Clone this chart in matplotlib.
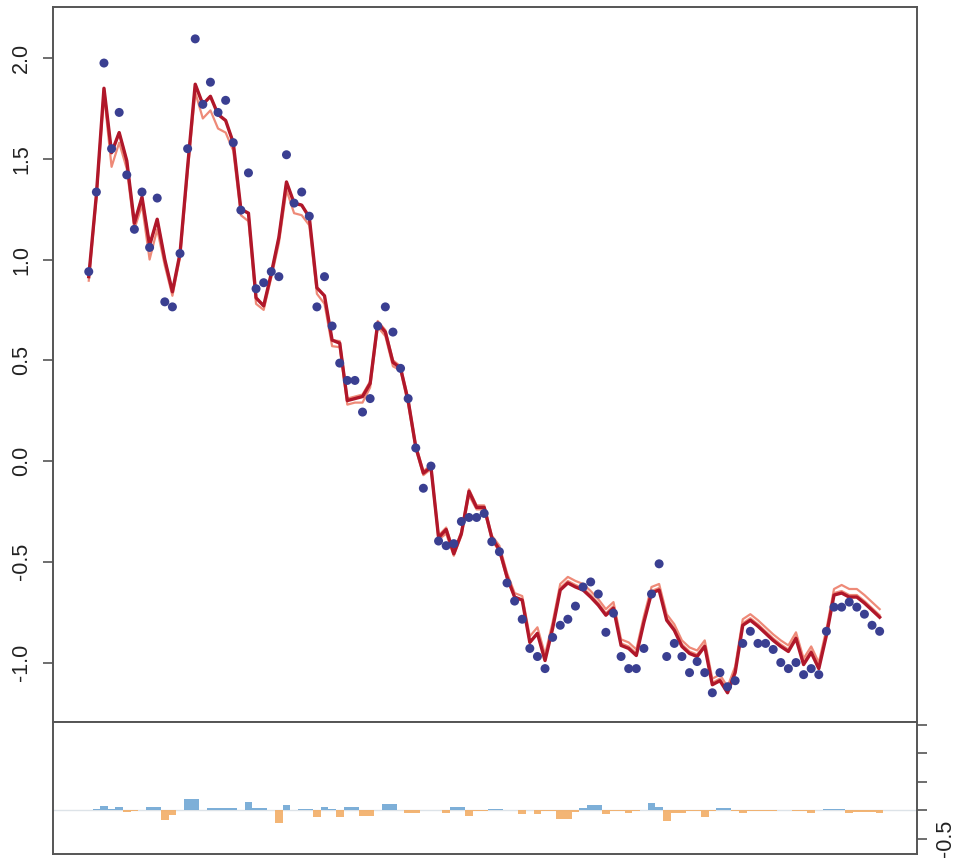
import matplotlib

matplotlib.use("Agg")
import matplotlib.pyplot as plt

# observed values, one per time step
observed = [
    0.94, 1.335, 1.975, 1.55, 1.73, 1.42, 1.15, 1.335, 1.06, 1.305,
    0.79, 0.765, 1.03, 1.55, 2.095, 1.77, 1.88, 1.73, 1.79, 1.58,
    1.245, 1.43, 0.855, 0.885, 0.94, 0.915, 1.52, 1.28, 1.335, 1.215,
    0.765, 0.915, 0.67, 0.486, 0.40, 0.40, 0.243, 0.31, 0.67, 0.765,
    0.64, 0.46, 0.31, 0.065, -0.135, -0.025, -0.397, -0.42, -0.41, -0.30,
    -0.28, -0.28, -0.26, -0.40, -0.45, -0.605, -0.695, -0.785, -0.93, -0.97,
    -1.03, -0.875, -0.815, -0.785, -0.72, -0.625, -0.60, -0.66, -0.85, -0.755,
    -0.97, -1.03, -1.03, -0.93, -0.66, -0.51, -0.97, -0.905, -0.97, -1.05,
    -0.995, -1.05, -1.15, -1.05, -1.12, -1.09, -0.905, -0.845, -0.905, -0.905,
    -0.935, -1.0, -1.03, -1.0, -1.06, -1.03, -1.06, -0.845, -0.725, -0.725,
    -0.70, -0.725, -0.76, -0.815, -0.845,
]

# fitted mean (dark red line)
fitted = [
    0.915, 1.32, 1.85, 1.53, 1.63, 1.49, 1.18, 1.31, 1.07, 1.20,
    1.0, 0.84, 1.03, 1.46, 1.87, 1.77, 1.81, 1.72, 1.69, 1.58,
    1.25, 1.23, 0.81, 0.77, 0.93, 1.11, 1.385, 1.28, 1.27, 1.21,
    0.86, 0.82, 0.60, 0.585, 0.30, 0.31, 0.32, 0.385, 0.685, 0.64,
    0.49, 0.46, 0.30, 0.07, -0.06, -0.03, -0.38, -0.34, -0.46, -0.36,
    -0.15, -0.23, -0.23, -0.38, -0.44, -0.575, -0.675, -0.69, -0.90, -0.855,
    -0.99, -0.83, -0.64, -0.605, -0.625, -0.64, -0.675, -0.715, -0.765, -0.73,
    -0.915, -0.93, -0.965, -0.80, -0.655, -0.64, -0.79, -0.84, -0.92, -0.955,
    -0.97, -0.92, -1.11, -1.09, -1.15, -1.05, -0.815, -0.79, -0.82, -0.855,
    -0.89, -0.92, -0.945, -0.88, -1.01, -0.95, -1.03, -0.865, -0.665, -0.655,
    -0.675, -0.675, -0.705, -0.74, -0.775,
]

# offsets of the two lighter fits from the dark one
band_lo_off = [
    -0.02, -0.02, -0.03, -0.07, -0.05, -0.04, -0.03, -0.04, -0.07, -0.05,
    -0.03, -0.02, -0.02, -0.03, -0.04, -0.07, -0.07, -0.07, -0.06, -0.04,
    -0.03, -0.04, -0.03, -0.02, -0.02, -0.03, -0.04, -0.05, -0.05, -0.04,
    -0.03, -0.04, -0.03, -0.02, -0.02, -0.02, -0.03, -0.02, -0.02, -0.02,
    -0.02, -0.01, -0.02, -0.01, -0.01, -0.01, -0.01, -0.02, -0.01, -0.01,
    -0.02, -0.01, -0.01, -0.01, -0.01, -0.01, 0.0, 0.0, 0.0, 0.0,
    0.01, 0.01, 0.01, 0.01, 0.01, 0.01, 0.01, 0.01, 0.01, 0.01,
    0.01, 0.01, 0.01, 0.01, 0.01, 0.01, 0.01, 0.01, 0.01, 0.01,
    0.01, 0.01, 0.01, 0.01, 0.01, 0.01, 0.01, 0.01, 0.01, 0.01,
    0.01, 0.01, 0.01, 0.01, 0.01, 0.01, 0.01, 0.01, 0.01, 0.01,
    0.01, 0.01, 0.01, 0.01, 0.01,
]
band_hi_off = [
    0.0, 0.0, 0.0, 0.0, 0.0, 0.0, 0.0, 0.0, 0.0, 0.0,
    0.0, 0.0, 0.0, 0.0, 0.0, 0.0, 0.0, 0.0, 0.0, 0.0,
    0.0, 0.0, 0.0, 0.0, 0.0, 0.0, 0.0, 0.0, 0.0, 0.0,
    0.0, 0.0, 0.0, 0.01, 0.01, 0.01, 0.01, 0.01, 0.01, 0.01,
    0.01, 0.01, 0.01, 0.01, 0.01, 0.01, 0.01, 0.01, 0.01, 0.01,
    0.01, 0.01, 0.01, 0.01, 0.02, 0.02, 0.02, 0.02, 0.03, 0.03,
    0.03, 0.03, 0.03, 0.03, 0.03, 0.03, 0.03, 0.03, 0.03, 0.03,
    0.03, 0.03, 0.03, 0.03, 0.03, 0.03, 0.03, 0.03, 0.03, 0.03,
    0.03, 0.03, 0.03, 0.03, 0.03, 0.03, 0.03, 0.03, 0.03, 0.03,
    0.03, 0.03, 0.03, 0.03, 0.03, 0.03, 0.03, 0.03, 0.03, 0.04,
    0.04, 0.04, 0.04, 0.04, 0.04,
]

# lower panel bars
residual = [
    0.0, 0.01, 0.07, 0.02, 0.05, -0.04, -0.02, 0.0, 0.05, 0.05,
    -0.17, -0.08, 0.0, 0.19, 0.19, 0.0, 0.04, 0.04, 0.04, 0.04,
    0.0, 0.14, 0.04, 0.03, 0.0, -0.23, 0.09, 0.0, 0.02, 0.01,
    -0.13, 0.05, 0.02, -0.13, 0.06, 0.06, -0.11, -0.11, 0.0, 0.10,
    0.10, 0.0, -0.05, -0.05, 0.0, 0.0, 0.0, -0.05, 0.05, 0.05,
    -0.10, -0.02, -0.02, 0.02, 0.02, 0.0, 0.0, -0.07, 0.0, -0.07,
    -0.02, -0.02, -0.16, -0.16, -0.04, 0.04, 0.08, 0.08, -0.07, -0.02,
    -0.02, -0.06, -0.02, 0.0, 0.12, 0.05, -0.20, -0.05, -0.05, -0.02,
    -0.02, -0.12, -0.02, 0.04, 0.04, -0.02, -0.06, -0.02, -0.02, -0.02,
    -0.02, 0.0, 0.0, -0.02, -0.02, -0.05, 0.0, 0.01, 0.02, 0.02,
    -0.05, -0.03, -0.03, -0.03, -0.05,
]

main_ticks = [-1.0, -0.5, 0.0, 0.5, 1.0, 1.5, 2.0]
resid_ticks = [-0.5, 0.0, 0.5, 1.0, 1.5]
resid_labels = ["-0.5", "", "", "", ""]

POINT_COLOR = "#3a3f91"
FIT_COLOR = "#b0172a"
BAND_COLOR = "#ee8a78"
POS_COLOR = "#6fa6d4"
NEG_COLOR = "#f2ad66"
FRAME_COLOR = "#555555"


def style_frame(ax):
    for spine in ax.spines.values():
        spine.set_color(FRAME_COLOR)
        spine.set_linewidth(1.4)


def main() -> int:
    plt.rcParams["font.family"] = ["Liberation Sans", "DejaVu Sans"]
    fig = plt.figure(figsize=(9.57, 8.68), dpi=100)
    ax = fig.add_axes([0.0554, 0.1682, 0.9027, 0.8237])
    ax_res = fig.add_axes([0.0554, 0.0161, 0.9027, 0.1521])

    steps = list(range(len(observed)))
    lower = [f + o for f, o in zip(fitted, band_lo_off)]
    upper = [f + o for f, o in zip(fitted, band_hi_off)]

    ax.plot(steps, lower, color=BAND_COLOR, lw=1.6, zorder=2)
    ax.plot(steps, upper, color=BAND_COLOR, lw=1.6, zorder=2)
    ax.plot(steps, fitted, color=FIT_COLOR, lw=2.4, zorder=3)
    ax.scatter(steps, observed, s=42, color=POINT_COLOR, edgecolors="none", zorder=4)

    ax.set_xlim(-4.7, 108.9)
    ax.set_ylim(-1.295, 2.253)
    ax.set_xticks([])
    ax.set_yticks(main_ticks)
    ax.set_yticklabels([f"{t:.1f}" for t in main_ticks])
    ax.tick_params(axis="y", direction="out", length=7, width=1.2, color=FRAME_COLOR,
                   labelsize=15.5, labelcolor="#222222", pad=8, labelrotation=90)
    for label in ax.get_yticklabels():
        label.set_verticalalignment("center")
    style_frame(ax)

    colors = [POS_COLOR if r >= 0 else NEG_COLOR for r in residual]
    ax_res.axhline(0.0, color="#dde3e8", lw=1.0, zorder=1)
    ax_res.bar(steps, residual, width=1.0, color=colors, alpha=0.9, lw=0, zorder=2)
    ax_res.set_xlim(-4.7, 108.9)
    ax_res.set_ylim(-0.772, 1.544)
    ax_res.set_xticks([])
    ax_res.yaxis.tick_right()
    ax_res.set_yticks(resid_ticks)
    ax_res.set_yticklabels(resid_labels)
    ax_res.tick_params(axis="y", direction="out", length=7, width=1.2, color=FRAME_COLOR,
                       labelsize=15.5, labelcolor="#222222", pad=6, labelrotation=90)
    for label in ax_res.get_yticklabels():
        label.set_verticalalignment("center")
    style_frame(ax_res)

    fig.savefig("out.png", dpi=100)
    plt.close(fig)
    return 0


if __name__ == "__main__":
    raise SystemExit(main())
